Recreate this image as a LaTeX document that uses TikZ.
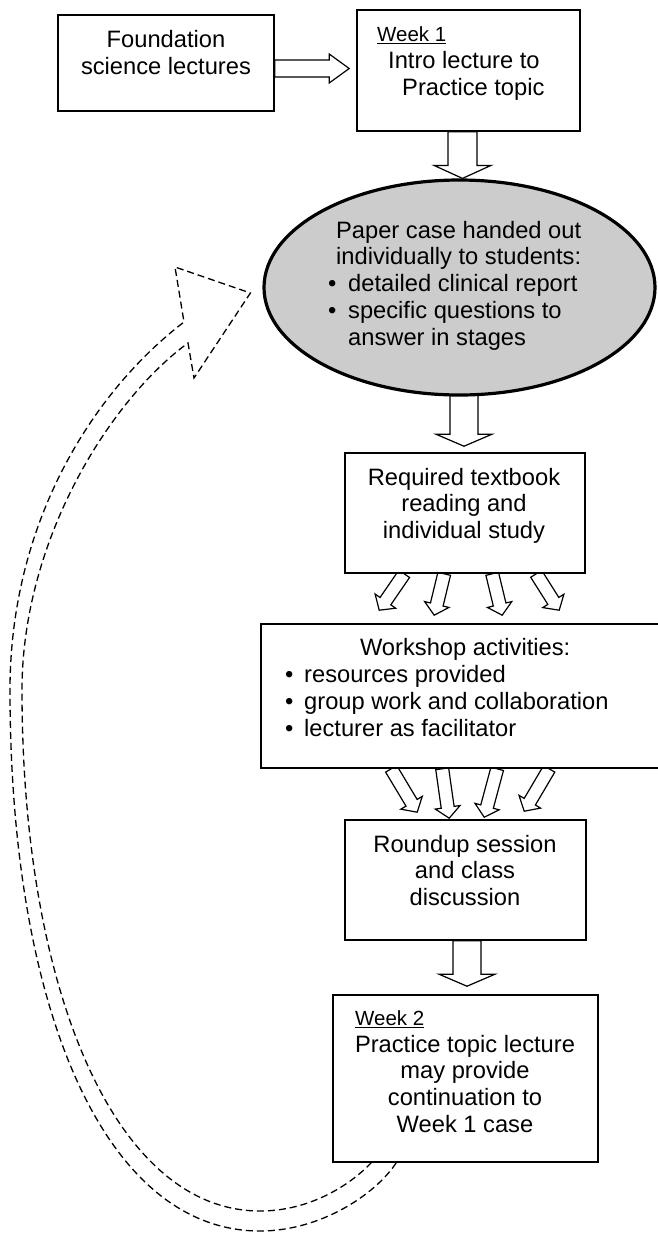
\documentclass[tikz,border=0pt]{standalone}
\usepackage{fontspec}
\setmainfont{Liberation Sans}
\usetikzlibrary{calc,backgrounds,shapes.geometric}
\definecolor{ellgray}{RGB}{204,204,204}
\newcommand\myul[1]{\vtop{\hbox{#1}\kern1.6pt\hrule height 1.1pt}}
\newcommand\fls{\rule{0pt}{18pt}}
% #1 style, #2 tail, #3 tip, #4 shaft half width, #5 head half width, #6 head length
\newcommand\barrow[6]{%
  \coordinate (bat) at (#2);
  \coordinate (bap) at (#3);
  \coordinate (bah) at ($(bap)!#6!(bat)$);
  \draw[#1] ($(bat)!#4!90:(bap)$) -- ($(bah)!#4!-90:(bat)$) -- ($(bah)!#5!-90:(bat)$)
    -- (bap) -- ($(bah)!#5!90:(bat)$) -- ($(bah)!#4!90:(bat)$) -- ($(bat)!#4!-90:(bap)$) -- cycle;}
\begin{document}
\begin{tikzpicture}[x=1pt,y=-1pt,
  txt/.style={inner sep=0pt, font=\fontsize{23.7}{26.7}\selectfont},
  wk/.style={inner sep=0pt, anchor=base west, font=\fontsize{20.5}{24}\selectfont},
  box/.style={draw, line width=1.6pt, fill=white, inner sep=0pt},
  blk/.style={draw, line width=1.2pt, fill=white, line join=miter},
  dasharrow/.style={draw, line width=1.3pt, dash pattern=on 7pt off 4pt}]
\useasboundingbox (0,0) rectangle (658,1235);

% boxes
\node[box, minimum width=216pt, minimum height=96pt] (A) at (166,63) {};
\node[box, minimum width=223pt, minimum height=121pt] (B) at (468.5,70.5) {};
\node[ellipse, draw, line width=3.2pt, fill=ellgray, inner sep=0pt,
      minimum width=391pt, minimum height=215pt] (E) at (459.5,287.5) {};
\node[box, minimum width=240pt, minimum height=120pt] (R) at (465,513) {};
\node[box, minimum width=439pt, minimum height=144pt] (W) at (480.5,696) {};
\node[box, minimum width=241pt, minimum height=120pt] (Rd) at (465.5,880) {};
\node[box, minimum width=265pt, minimum height=167pt] (W2) at (465.5,1078.5) {};

% texts
\node[txt, anchor=north, align=center] (At) at (166,29.5) {\fls Foundation\\science lectures};
\node[wk] (wk1) at (377,41.5) {\myul{Week 1}};
\node[txt, anchor=north west, align=left] (Bt) at (388,50.5) {\fls Intro lecture to\\\hspace*{14pt}Practice topic};
\node[txt, anchor=north west, align=left] (Et) at (328,220)
  {\fls\makebox[261pt]{Paper case handed out}\\
   \makebox[261pt]{individually to students:}\\
   \makebox[20pt][l]{•}detailed clinical report\\
   \makebox[20pt][l]{•}specific questions to\\
   \hspace*{20pt}answer in stages};
\node[txt, anchor=north, align=center] (Rt) at (464,467)
  {\fls Required textbook\\reading and\\individual study};
\node[txt, anchor=north west, align=left, font=\fontsize{23.7}{27.2}\selectfont] (Wt) at (285,637)
  {\fls\makebox[360pt]{Workshop activities:}\\
   \makebox[19pt][l]{•}resources provided\\
   \makebox[19pt][l]{•}group work and collaboration\\
   \makebox[19pt][l]{•}lecturer as facilitator};
\node[txt, anchor=north, align=center] (Rdt) at (465,834)
  {\fls Roundup session\\and class\\discussion};
\node[wk] (wk2) at (355,1025) {\myul{Week 2}};
\node[txt, anchor=north, align=center] (W2t) at (465,1034)
  {\fls Practice topic lecture\\may provide\\continuation to\\Week 1 case};

% block arrows
\begin{scope}[on background layer]
\barrow{blk}{$(A.east)+(0,5.5)$}{$(B.west)+(-7,-2)$}{8.5pt}{14.5pt}{20pt}
\barrow{blk}{$(B.south)+(-6,0)$}{$(E.north)+(3,0)$}{14.5pt}{28.5pt}{13pt}
\barrow{blk}{$(E.south)+(4.5,-2)$}{$(R.north)+(-1,-6)$}{14pt}{28pt}{12pt}
\barrow{blk}{$(R.south west)+(60,0)$}{$(W.north west)+(119,-13)$}{6.5pt}{12.5pt}{11pt}
\barrow{blk}{$(R.south west)+(100,0)$}{$(W.north west)+(174,-8)$}{6.5pt}{12.5pt}{11pt}
\barrow{blk}{$(R.south west)+(148,0)$}{$(W.north west)+(242,-8)$}{6.5pt}{12.5pt}{11pt}
\barrow{blk}{$(R.south west)+(192,0)$}{$(W.north west)+(299,-13)$}{6.5pt}{12.5pt}{11pt}
\barrow{blk}{$(W.south west)+(131,0)$}{$(Rd.north west)+(73,-7)$}{6.5pt}{12.5pt}{11pt}
\barrow{blk}{$(W.south west)+(182,0)$}{$(Rd.north west)+(105,-1)$}{6.5pt}{12.5pt}{11pt}
\barrow{blk}{$(W.south west)+(237,0)$}{$(Rd.north west)+(140,-2)$}{6.5pt}{12.5pt}{11pt}
\barrow{blk}{$(W.south west)+(289,0)$}{$(Rd.north west)+(180,-8)$}{6.5pt}{12.5pt}{11pt}
\barrow{blk}{$(Rd.south)+(1.5,0)$}{$(W2.north)+(1.5,-8)$}{14pt}{28pt}{12pt}
\end{scope}

% dashed return arrow from Week 2 box back to the paper case
\coordinate (dT1) at ($(W2.south west)+(64,0)$);
\coordinate (dT2) at ($(W2.south west)+(39,0)$);
\coordinate (hTip) at ($(E.west)+(-12,5.5)$);
\coordinate (hN1) at (184,322);
\coordinate (hC1) at (175,267);
\coordinate (hC2) at (194,378);
\coordinate (hN2) at (188,343);
\draw[dasharrow]
  (dT1) .. controls (375,1195) and (320,1231) .. (260,1231)
        .. controls (105,1231) and (10,1010) .. (10,690)
        .. controls (10,520) and (95,390) .. (hN1)
  -- (hC1) -- (hTip) -- (hC2) -- (hN2)
        .. controls (110,400) and (22,540) .. (22,690)
        .. controls (22,990) and (115,1211) .. (260,1211)
        .. controls (310,1211) and (350,1185) .. (dT2);
\end{tikzpicture}
\end{document}
